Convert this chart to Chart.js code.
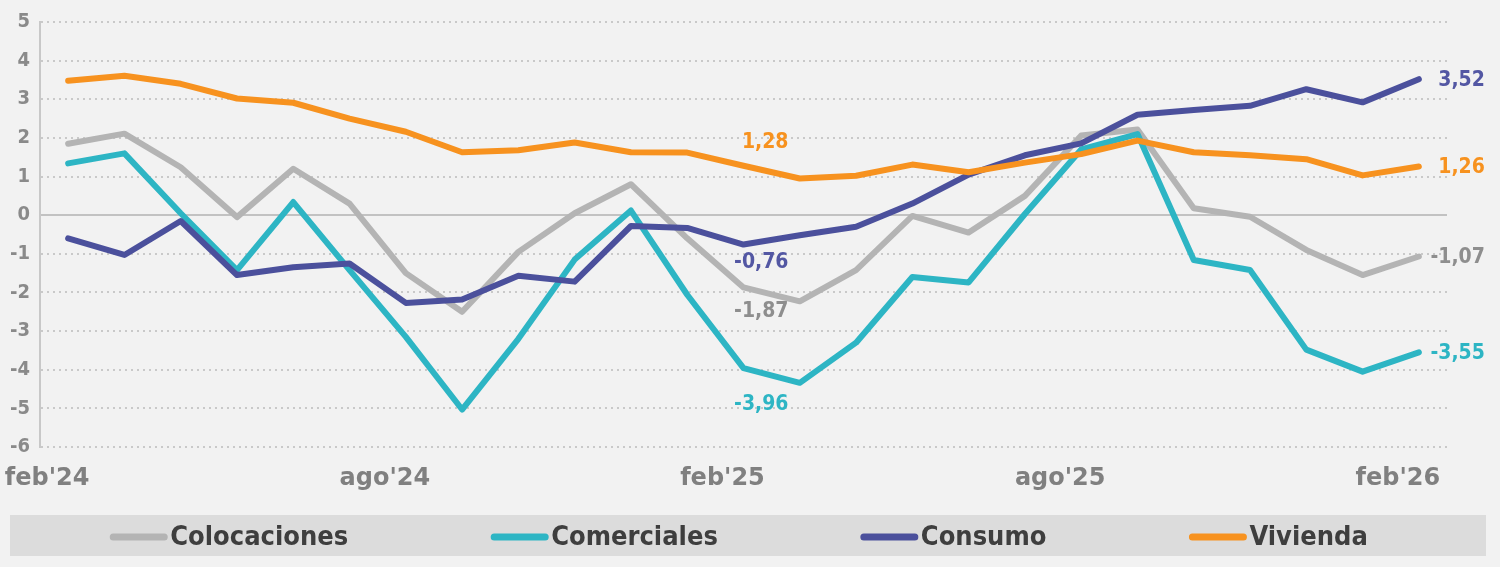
<!DOCTYPE html>
<html>
<head>
<meta charset="utf-8">
<script src="https://cdn.jsdelivr.net/npm/chart.js@4.4.1/dist/chart.umd.min.js"></script>
<style>
  html, body { margin: 0; padding: 0; background: #f2f2f2; }
  #wrap { width: 1500px; height: 567px; }
</style>
</head>
<body>
<div id="wrap"><canvas id="c" width="1500" height="567"></canvas></div>
<script>
const categories = ["feb'24","mar'24","abr'24","may'24","jun'24","jul'24","ago'24","sep'24","oct'24","nov'24","dic'24","ene'25",
  "feb'25","mar'25","abr'25","may'25","jun'25","jul'25","ago'25","sep'25","oct'25","nov'25","dic'25","ene'26","feb'26"];
const shownTickIndexes = [0, 6, 12, 18, 24];
const seriesNames = ["Colocaciones", "Comerciales", "Consumo", "Vivienda"];
const colocaciones = [1.85, 2.11, 1.24, -0.05, 1.2, 0.3, -1.5, -2.5, -0.95, 0.05, 0.8, -0.6, -1.87, -2.23, -1.42, -0.02, -0.45, 0.5, 2.06, 2.22, 0.18, -0.04, -0.9, -1.55, -1.07];
const comerciales  = [1.34, 1.6, 0.05, -1.42, 0.34, -1.42, -3.15, -5.03, -3.2, -1.15, 0.12, -2.06, -3.96, -4.34, -3.3, -1.6, -1.74, 0.03, 1.7, 2.1, -1.16, -1.42, -3.48, -4.05, -3.55];
const consumo      = [-0.6, -1.03, -0.15, -1.55, -1.35, -1.25, -2.27, -2.18, -1.57, -1.72, -0.28, -0.33, -0.76, -0.52, -0.3, 0.3, 1.05, 1.55, 1.86, 2.6, 2.72, 2.83, 3.26, 2.92, 3.52];
const vivienda     = [3.48, 3.61, 3.4, 3.02, 2.91, 2.5, 2.16, 1.63, 1.68, 1.88, 1.63, 1.62, 1.28, 0.95, 1.02, 1.31, 1.11, 1.36, 1.58, 1.93, 1.63, 1.55, 1.45, 1.03, 1.26];
const yTicks = [5, 4, 3, 2, 1, 0, -1, -2, -3, -4, -5, -6];

const colors = ["#b4b4b4", "#2db5c4", "#4b509c", "#f7921f"];
const labelColors = ["#8e8e8e", "#2db5c4", "#5357a3", "#f7921f"];
const FONT = "'DejaVu Sans Condensed', 'DejaVu Sans', sans-serif";
const FONT_WIDE = "'DejaVu Sans', sans-serif";

function fmt(v) { return v.toFixed(2).replace('.', ','); }

// value labels: end of each line + callouts at feb'25
const midLabelIndex = 12;
const midLabelOffsets = [{ds: 3, dy: -23}, {ds: 2, dy: 18}, {ds: 0, dy: 24}, {ds: 1, dy: 36}];

const valueLabels = {
  id: 'valueLabels',
  afterDatasetsDraw(chart) {
    const ctx = chart.ctx;
    ctx.save();
    ctx.font = "bold 21px " + FONT;
    ctx.textBaseline = 'middle';
    ctx.textAlign = 'right';
    chart.data.datasets.forEach((ds, di) => {
      const meta = chart.getDatasetMeta(di);
      const last = meta.data[meta.data.length - 1];
      ctx.fillStyle = labelColors[di];
      ctx.fillText(fmt(ds.data[ds.data.length - 1]), last.x + 66, last.y + 1);
    });
    midLabelOffsets.forEach(o => {
      const ds = chart.data.datasets[o.ds];
      const pt = chart.getDatasetMeta(o.ds).data[midLabelIndex];
      ctx.fillStyle = labelColors[o.ds];
      ctx.fillText(fmt(ds.data[midLabelIndex]), pt.x + 45, pt.y + o.dy);
    });
    ctx.restore();
  }
};

const boxLegend = {
  id: 'boxLegend',
  afterDraw(chart) {
    const ctx = chart.ctx;
    ctx.save();
    ctx.fillStyle = '#dcdcdc';
    ctx.fillRect(10, 515, 1476, 41);
    ctx.font = "bold 27px " + FONT;
    ctx.textBaseline = 'middle';
    ctx.textAlign = 'left';
    const sw = 57, gapTxt = 3, gapItem = 143, cy = 537;
    const items = chart.data.datasets.map(d => ({label: d.label, color: d.borderColor, w: ctx.measureText(d.label).width}));
    const total = items.reduce((s, it) => s + sw + gapTxt + it.w, 0) + gapItem * (items.length - 1);
    let x = 739 - total / 2;
    items.forEach(it => {
      ctx.strokeStyle = it.color;
      ctx.lineWidth = 7;
      ctx.lineCap = 'round';
      ctx.beginPath();
      ctx.moveTo(x + 3, cy);
      ctx.lineTo(x + sw - 3, cy);
      ctx.stroke();
      ctx.fillStyle = '#3e3e3e';
      ctx.fillText(it.label, x + sw + gapTxt, cy + 1);
      x += sw + gapTxt + it.w + gapItem;
    });
    ctx.restore();
  }
};

const seriesData = [colocaciones, comerciales, consumo, vivienda];
const datasets = seriesNames.map((name, i) => ({
  label: name,
  data: seriesData[i],
  borderColor: colors[i],
  backgroundColor: colors[i],
  borderWidth: 6,
  pointRadius: 0,
  tension: 0,
  borderJoinStyle: 'round',
  borderCapStyle: 'round',
  order: seriesNames.length - i
}));

new Chart(document.getElementById('c'), {
  type: 'line',
  data: { labels: categories, datasets },
  options: {
    responsive: false,
    animation: false,
    devicePixelRatio: 1,
    layout: { padding: { top: 20, right: 53, bottom: 67, left: 0 } },
    plugins: { legend: { display: false }, tooltip: { enabled: false } },
    scales: {
      x: {
        type: 'category',
        offset: true,
        afterFit(s) { s.height = 53; },
        grid: {
          display: true,
          drawTicks: false,
          offset: true,
          color: c => (c.index === 0 ? '#c8c8c8' : 'rgba(0,0,0,0)'),
          lineWidth: 2
        },
        border: { display: false },
        ticks: {
          autoSkip: false,
          maxRotation: 0,
          minRotation: 0,
          padding: 17,
          labelOffset: -21,
          color: '#808080',
          font: { family: FONT_WIDE, size: 24, weight: 'bold' },
          callback: (v, i) => (shownTickIndexes.includes(i) ? categories[i] : '')
        }
      },
      y: {
        min: -6,
        max: 5,
        afterFit(s) { s.width = 40; },
        afterBuildTicks(s) { s.ticks = yTicks.map(v => ({ value: v })); },
        grid: {
          drawTicks: false,
          color: c => (c.tick && c.tick.value === 0 ? '#c2c2c2' : '#c9c9c9'),
          lineWidth: 2
        },
        border: {
          display: true,
          color: '#c8c8c8',
          width: 2,
          dash: c => (c.tick && c.tick.value !== 0 ? [2, 4] : [])
        },
        ticks: {
          padding: 10,
          color: '#8a8a8a',
          font: { family: FONT, size: 20, weight: 'bold' },
          callback: v => String(v)
        }
      }
    }
  },
  plugins: [valueLabels, boxLegend]
});
</script>
</body>
</html>
